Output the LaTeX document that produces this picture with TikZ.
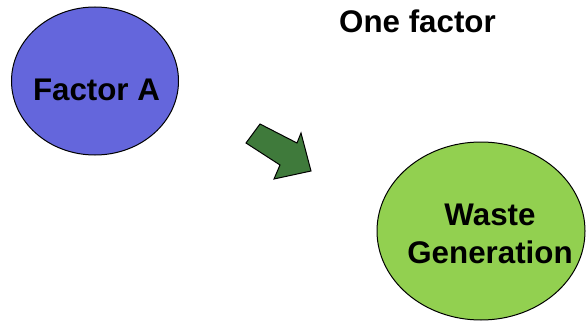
\documentclass[tikz,border=0pt]{standalone}
\usepackage{fontspec}
\setmainfont{Liberation Sans}
\usetikzlibrary{shapes.geometric}
\definecolor{blueA}{HTML}{6466DC}
\definecolor{greenW}{HTML}{92D050}
\definecolor{arrowG}{HTML}{3F7A3B}
\begin{document}
\begin{tikzpicture}[x=1pt,y=-1pt,
  lbl/.style={font=\bfseries\fontsize{31.3}{37}\selectfont, inner sep=0, anchor=base},
  blob/.style={ellipse, draw=black, line width=1pt, inner sep=0}]
\useasboundingbox (0,0) rectangle (586,321);
\node[blob, fill=blueA, minimum width=167pt, minimum height=148pt] (fa) at (95,81) {};
\node[blob, fill=greenW, minimum width=208pt, minimum height=178pt] (wg) at (481,231) {};
\node[lbl] (tfa) at (96.5,100) {Factor A};
\node[lbl] (tone) at (417.5,33) {One factor};
\node[lbl] (tw) at (490,225) {Waste};
\node[lbl] (tg) at (490,263) {Generation};
\draw[fill=arrowG, draw=black, line width=1pt, line join=miter]
  (260,124) -- (297,143) -- (301,133) -- (311,171) -- (274,179) -- (280,165) -- (246,143) -- cycle;
\end{tikzpicture}
\end{document}
